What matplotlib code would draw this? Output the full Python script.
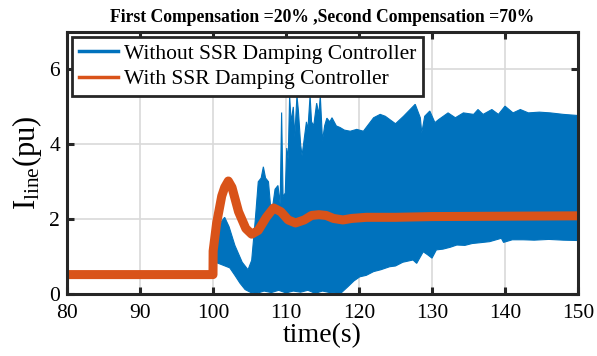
import matplotlib
matplotlib.use('Agg')
import matplotlib.pyplot as plt
from matplotlib.lines import Line2D
import numpy as np

# envelopes (time in s, current in pu)
blue_up_t = [80, 100, 100.05, 100.6, 101.2, 101.6, 102.2, 103, 104, 104.8, 105.3, 105.8, 106.2,
             106.6, 106.9, 107.2, 107.6, 108.0, 108.5, 108.9, 109.2, 109.4, 109.6, 109.9, 110.1,
             110.3, 110.5, 110.7, 111.0, 111.2, 111.5, 111.7, 112.0, 112.2, 112.6, 112.8, 113.0,
             113.3, 113.5, 113.8, 114.2, 114.5, 114.7, 115.0, 115.3, 115.6, 116.0, 116.3, 116.9,
             117.4, 118.0, 118.8, 119.7, 120.6, 122.0, 122.9, 123.6, 125.0, 126.1, 126.8, 127.7,
             128.4, 128.6, 129.0, 129.7, 130.4, 130.9, 132.2, 133.2, 134.3, 135.7, 136.3, 137.0,
             138.2, 139.1, 140.0, 141.1, 142.1, 143.2, 144.7, 146.2, 148.0, 150]
blue_up = [0.6, 0.6, 1.3, 1.6, 1.95, 2.05, 1.8, 1.3, 0.85, 0.65, 0.9, 2.0, 3.0,
           3.1, 3.4, 3.1, 3.0, 2.1, 2.8, 2.9, 2.4, 4.85, 2.6, 2.7, 3.9,
           3.6, 5.3, 4.6, 5.0, 4.2, 5.3, 4.9, 4.0, 3.7, 4.3, 4.6, 4.4,
           5.3, 4.6, 4.5, 5.1, 4.8, 5.3, 4.1, 4.5, 4.7, 4.6, 4.71, 4.49,
           4.45, 4.38, 4.35, 4.40, 4.35, 4.71, 4.80, 4.75, 4.55, 4.75, 4.89, 5.07,
           4.71, 4.31, 4.75, 4.89, 4.58, 4.66, 4.84, 4.71, 4.84, 4.80, 4.93, 4.80,
           4.93, 4.80, 5.02, 4.84, 4.93, 4.84, 4.86, 4.84, 4.80, 4.77]

blue_lo_t = [80, 100, 100.05, 101, 102.3, 103, 103.7, 104.4, 105.2, 106, 107, 108, 109, 110,
             111, 112, 113, 114, 115, 116, 117.5, 118.5, 119.3, 120.1, 121, 122, 123, 124.2,
             125, 126, 127.4, 127.9, 128.8, 129.4, 130, 130.6, 131.5, 132.5, 133.4, 134.5,
             135.5, 136.5, 137.9, 139.5, 139.8, 141, 142.5, 144, 146, 148, 150]
blue_lo = [0.5, 0.5, 0.87, 0.8, 0.7, 0.5, 0.29, 0.12, 0.04, 0.02, 0.08, 0.04, 0.1, 0.03,
           0.08, 0.05, 0.1, 0.02, 0.08, 0.04, 0.02, 0.2, 0.35, 0.46, 0.5, 0.6, 0.65, 0.73,
           0.75, 0.85, 0.91, 0.82, 1.13, 1.05, 0.96, 1.18, 1.2, 1.25, 1.31, 1.3,
           1.35, 1.37, 1.40, 1.49, 1.38, 1.45, 1.45, 1.44, 1.46, 1.44, 1.43]

orange_t = [80, 100, 100.02, 100.5, 101.2, 101.6, 102.1, 102.6, 103.5, 104.5, 105.3, 106.2,
            107.3, 108.3, 109.3, 110.3, 111.3, 112.5, 113.5, 114.5, 115.5, 116.5, 117.8, 119,
            121, 125, 130, 140, 150]
orange_mid = [0.52, 0.52, 1.15, 1.9, 2.62, 2.85, 3.02, 2.85, 2.2, 1.75, 1.6, 1.7,
              2.05, 2.3, 2.2, 1.98, 1.9, 1.98, 2.1, 2.12, 2.1, 2.02, 1.98, 2.02,
              2.05, 2.05, 2.07, 2.08, 2.09]
orange_amp = [0, 0, 0, 0, 0, 0, 0, 0, 0, 0.02, 0.03, 0.04,
              0.05, 0.06, 0.07, 0.08, 0.09, 0.1, 0.1, 0.1, 0.1, 0.1, 0.1, 0.1,
              0.1, 0.1, 0.1, 0.1, 0.1]

blue = '#0072BD'
orange = '#D95319'

plt.rcParams['font.family'] = ['Liberation Serif', 'DejaVu Serif']
plt.rcParams['mathtext.fontset'] = 'custom'
plt.rcParams['mathtext.rm'] = 'Liberation Serif'

fig = plt.figure(figsize=(5.97, 3.56), dpi=100)
ax = fig.add_axes([0.1122, 0.174, 0.856, 0.736])

# blue: dense oscillation drawn as its envelope
bx = np.concatenate([blue_up_t, blue_lo_t[::-1]])
by = np.concatenate([blue_up, blue_lo[::-1]])
ax.fill(bx, by, color=blue, lw=0.8, ec=blue, zorder=2)

# orange: thick trace plus growing oscillation band
om = np.array(orange_mid)
oa = np.array(orange_amp)
ax.fill(np.concatenate([orange_t, orange_t[::-1]]),
        np.concatenate([om + oa, (om - oa)[::-1]]), color=orange, lw=0, zorder=3)
ax.plot(orange_t, orange_mid, color=orange, lw=6.5, solid_joinstyle='round', zorder=3)

ax.set_xlim(80, 150)
ax.set_ylim(0, 7)
ax.set_xticks([80, 90, 100, 110, 120, 130, 140, 150])
ax.set_yticks([0, 2, 4, 6])
ax.grid(True, color='#d9d9d9', lw=1.2)
ax.set_axisbelow(True)
ax.tick_params(direction='in', top=True, right=True, length=5, width=2.2,
               labelsize=15.5, color='#262626')
ax.tick_params(axis='x', pad=7)
ax.tick_params(axis='y', pad=5)
for s in ax.spines.values():
    s.set_linewidth(2.2)
    s.set_color('#262626')
    s.set_zorder(5)

ax.set_xlabel('time(s)', fontsize=20, labelpad=0)
ax.set_ylabel(r'$\mathregular{I_{line}}$(pu)', fontsize=22, labelpad=4)
ax.set_title('First Compensation =20% ,Second Compensation =70%',
             fontsize=12.7, fontweight='bold', pad=7)

handles = [Line2D([], [], color=blue, lw=2.5), Line2D([], [], color=orange, lw=2.5)]
leg = ax.legend(handles, ['Without SSR Damping Controller', 'With SSR Damping Controller'],
                loc='upper left', fontsize=15.5, fancybox=False, framealpha=1,
                edgecolor='#262626', handlelength=1.8, handletextpad=0.3,
                labelspacing=0.25, borderpad=0.3, borderaxespad=0.25)
leg.get_frame().set_linewidth(2)
leg.set_zorder(6)

fig.savefig('out.png', dpi=100)
